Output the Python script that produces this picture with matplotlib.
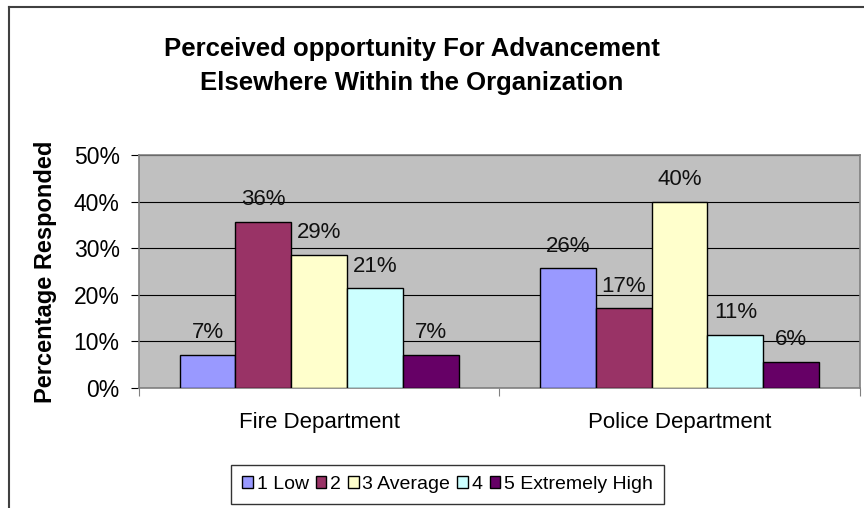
import numpy as np
import matplotlib
matplotlib.use("Agg")
import matplotlib.pyplot as plt

# ── data ────────────────────────────────────────────────────────────────
departments = ["Fire Department", "Police Department"]
levels      = ["1 Low", "2", "3 Average", "4", "5 Extremely High"]
# share of respondents per level, one list per level (fire, police)
low      = [0.071, 0.257]
two      = [0.357, 0.171]
average  = [0.286, 0.400]
four     = [0.214, 0.114]
extreme  = [0.071, 0.057]
labels_pct = [["7%", "26%"], ["36%", "17%"], ["29%", "40%"],
              ["21%", "11%"], ["7%", "6%"]]
y_ticks = [0.0, 0.1, 0.2, 0.3, 0.4, 0.5]

COLORS = ["#9999FF", "#993366", "#FFFFCC", "#CCFFFF", "#660066"]
series = [low, two, average, four, extreme]

plt.rcParams['font.family'] = ['Liberation Sans', 'DejaVu Sans']

fig = plt.figure(figsize=(8.64, 5.08), dpi=100)
fig.patch.set_facecolor('white')
ax = fig.add_axes([0.161, 0.236, 0.834, 0.459])
ax.set_facecolor('#C0C0C0')

x = np.arange(len(departments))
w = 0.155
for i, (vals, col) in enumerate(zip(series, COLORS)):
    pos = x + (i - 2) * w
    ax.bar(pos, vals, width=w, color=col, edgecolor='black', lw=1.0,
           label=levels[i], zorder=3)
    for px, v, lab in zip(pos, vals, labels_pct[i]):
        ax.annotate(lab, (px, v), xytext=(0, 16), textcoords='offset points',
                    ha='center', va='center', fontsize=16, color='#111111',
                    zorder=4)

ax.set_xlim(-0.5, 1.5)
ax.set_ylim(0, 0.5)
ax.set_yticks(y_ticks)
ax.set_yticklabels([f"{t:.0%}" for t in y_ticks], fontsize=16.5)
ax.yaxis.grid(True, color='black', lw=0.8, zorder=1)
ax.set_axisbelow(True)

# category ticks sit between the groups, labels in the middle
ax.set_xticks([-0.5, 0.5, 1.5])
ax.set_xticklabels([])
ax.set_xticks(x, minor=True)
ax.set_xticklabels(departments, minor=True, fontsize=16)
ax.tick_params(axis='x', which='minor', length=0, pad=17)
ax.tick_params(axis='x', which='major', length=6, color='#808080')
ax.tick_params(axis='y', length=6, pad=8, color='black')

for s in ax.spines.values():
    s.set_color('#808080')
    s.set_linewidth(1.2)

ax.set_ylabel("Percentage Responded", fontsize=17, fontweight='bold')
ax.yaxis.set_label_coords(-0.114, 0.5)

fig.text(0.477, 0.870, "Perceived opportunity For Advancement\nElsewhere Within the Organization",
         ha='center', va='center', fontsize=18.5, fontweight='bold',
         linespacing=1.55)

leg = fig.legend(loc='center', bbox_to_anchor=(0.518, 0.046), ncol=5,
                 fontsize=14, frameon=True, fancybox=False,
                 handlelength=0.55, handleheight=0.55, handletextpad=0.2,
                 columnspacing=0.35, borderpad=0.55, borderaxespad=0)
leg.get_frame().set_edgecolor('black')
leg.get_frame().set_linewidth(1.0)

# outer chart border (top and left edges visible)
fig.add_artist(plt.Line2D([9/864, 9/864], [0, 1 - 7/508], transform=fig.transFigure,
                          color='#404040', lw=1.5))
fig.add_artist(plt.Line2D([9/864, 1], [1 - 7/508, 1 - 7/508], transform=fig.transFigure,
                          color='#404040', lw=1.5))

fig.savefig('out.png', dpi=100, facecolor='white')
